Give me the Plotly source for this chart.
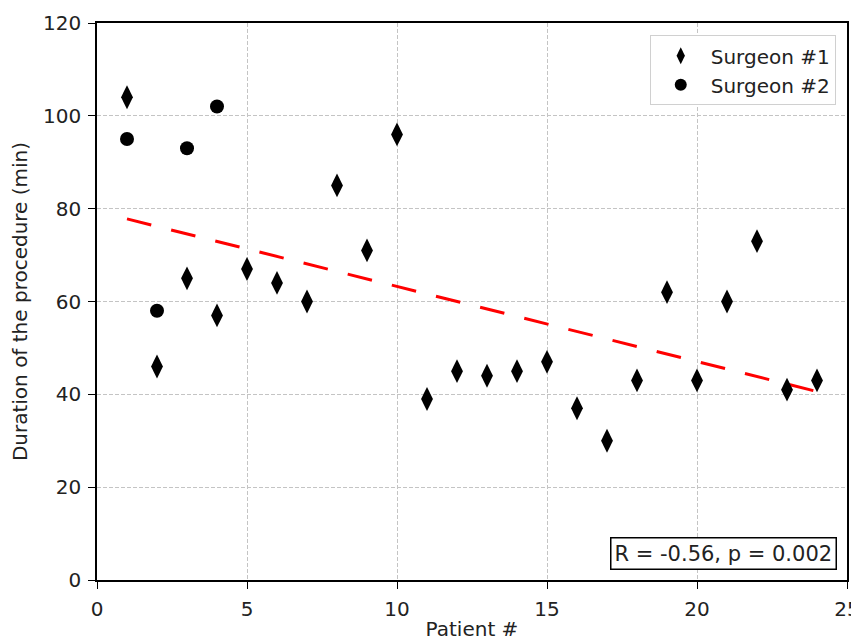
import plotly.graph_objects as go

patients_s1 = list(range(1, 25))
duration_s1 = [104, 46, 65, 57, 67, 64, 60, 85, 71, 96, 39, 45,
               44, 45, 47, 37, 30, 43, 62, 43, 60, 73, 41, 43]
patients_s2 = [1, 2, 3, 4]
duration_s2 = [95, 58, 93, 102]
trend_x = [1, 24]
trend_y = [77.8, 40.6]
x_ticks = [0, 5, 10, 15, 20, 25]
y_ticks = [0, 20, 40, 60, 80, 100, 120]
stats_text = "R = -0.56, p = 0.002"

font = "DejaVu Sans, Liberation Sans, sans-serif"
txt = "#222"

fig = go.Figure()
fig.add_trace(go.Scatter(
    x=trend_x, y=trend_y, mode="lines",
    line=dict(color="red", width=3, dash="25px,20.5px"),
    showlegend=False, hoverinfo="skip"))
fig.add_trace(go.Scatter(
    x=patients_s1, y=duration_s1, mode="markers", name="Surgeon #1",
    marker=dict(symbol="diamond-tall", size=17, color="black")))
fig.add_trace(go.Scatter(
    x=patients_s2, y=duration_s2, mode="markers", name="Surgeon #2",
    marker=dict(symbol="circle", size=14, color="black")))

axis_common = dict(
    showline=True, linecolor="black", linewidth=1.5, mirror=True,
    ticks="outside", ticklen=7, tickcolor="black", tickwidth=1.2,
    ticklabelstandoff=3, ticklabeloverflow="allow",
    showgrid=True, gridcolor="#c4c4c4", griddash="4px,2px", gridwidth=1,
    zeroline=False, tickfont=dict(size=20, color=txt, family=font),
    automargin=False,
)

fig.update_xaxes(range=[0, 25], tickvals=x_ticks,
                 title=dict(text="Patient #", font=dict(size=20, color=txt, family=font), standoff=17),
                 **axis_common)
fig.update_yaxes(range=[0, 120], tickvals=y_ticks,
                 title=dict(text="Duration of the procedure (min)", font=dict(size=20, color=txt, family=font), standoff=12),
                 **axis_common)

fig.add_annotation(
    x=0.987, y=0.018, xref="paper", yref="paper", xanchor="right", yanchor="bottom",
    text=stats_text, showarrow=False,
    font=dict(size=21, color=txt, family=font),
    bordercolor="black", borderwidth=1.5, borderpad=3, bgcolor="white")

# page body has an 8px margin: figure sized/placed so plot area lands where the reference has it
fig.update_layout(
    width=851, height=633,
    margin=dict(l=89, r=12, t=15, b=61),
    plot_bgcolor="white", paper_bgcolor="white",
    font=dict(family=font, size=20, color=txt),
    legend=dict(x=0.985, y=0.978, xanchor="right", yanchor="top",
                bordercolor="#d0d0d0", borderwidth=1, bgcolor="white",
                font=dict(size=20, color=txt, family=font),
                itemsizing="constant", itemwidth=50),
)

fig.write_html("out.html")
